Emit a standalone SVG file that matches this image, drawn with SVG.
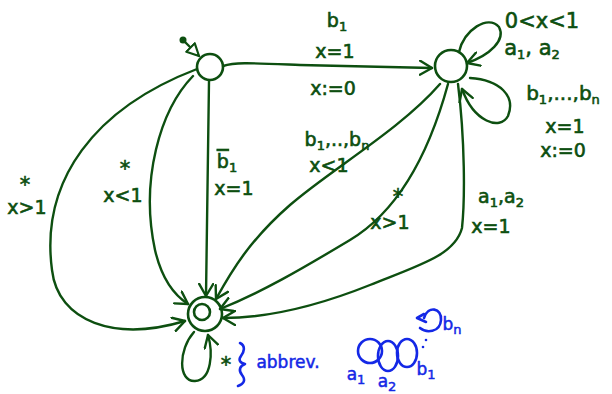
<svg xmlns="http://www.w3.org/2000/svg" width="612" height="394" viewBox="0 0 612 394">
<style>
.n{fill:none;stroke:#0d4f10;stroke-width:2.6;stroke-linecap:round;stroke-linejoin:round}
.e{fill:none;stroke:#0d4f10;stroke-width:2.4;stroke-linecap:round;stroke-linejoin:round}
.b{fill:none;stroke:#1428e6;stroke-width:2.6;stroke-linecap:round;stroke-linejoin:round}
.t{font-family:"DejaVu Sans",sans-serif;font-size:19px;fill:#0d4f10;stroke:#0d4f10;stroke-width:0.6;text-anchor:middle}
.tb{font-family:"DejaVu Sans",sans-serif;font-size:17px;fill:#1428e6;stroke:#1428e6;stroke-width:0.5;text-anchor:middle}
.s{font-size:13px}
.st{font-size:21px}
</style>
<defs>
<marker id="ah" markerUnits="userSpaceOnUse" markerWidth="16" markerHeight="16" refX="13" refY="8" orient="auto" viewBox="0 0 16 16">
<path d="M1,1 L13,8 L1,15" fill="none" stroke="#0d4f10" stroke-width="2.4" stroke-linecap="round" stroke-linejoin="round"/>
</marker>
<marker id="tri" markerUnits="userSpaceOnUse" markerWidth="16" markerHeight="16" refX="13" refY="8" orient="auto" viewBox="0 0 16 16">
<path d="M1,2 L13,8 L1,14 Z" fill="#fff" stroke="#0d4f10" stroke-width="2.2" stroke-linejoin="round"/>
</marker>
</defs>

<g id="node-q0">
<circle class="n" cx="210" cy="67" r="13"/>
</g>
<g id="node-q1">
<circle class="n" cx="451" cy="66" r="16"/>
</g>
<g id="node-q2">
<circle class="n" cx="205" cy="314" r="17"/>
<circle class="n" cx="202" cy="312" r="8"/>
</g>

<g id="connectors">
<circle cx="183" cy="40" r="3.5" fill="#0d4f10"/>
<path class="e" d="M183,40 L199,56" marker-end="url(#tri)"/>
<path class="e" d="M223,66 C235,62 250,63 300,65 L432,68" marker-end="url(#ah)"/>
<path class="e" d="M459,52 C464,30 488,14 499,27 C506,40 490,55 467,63" marker-end="url(#ah)"/>
<path class="e" d="M470,78 C500,80 516,96 508,116 C500,131 474,122 462,89" marker-end="url(#ah)"/>
<path class="e" d="M197,69 C95,108 40,180 52,270 C58,322 115,342 185,321" marker-end="url(#ah)"/>
<path class="e" d="M193,76 C160,110 140,180 155,250 C162,280 174,295 188,304" marker-end="url(#ah)"/>
<path class="e" d="M209,81 L206,296" marker-end="url(#ah)"/>
<path class="e" d="M440,84 C400,130 330,170 290,205 C250,240 232,270 216,299" marker-end="url(#ah)"/>
<path class="e" d="M448,84 C430,150 400,210 350,240 C300,270 262,292 220,309" marker-end="url(#ah)"/>
<path class="e" d="M458,84 C465,140 465,200 462,228 C455,255 420,265 370,285 C320,305 270,318 223,318" marker-end="url(#ah)"/>
<path class="e" d="M194,332 C178,350 178,382 195,381 C212,380 213,352 208,335" marker-end="url(#ah)"/>
</g>

<g id="labels">
<text class="t" x="337" y="27">b<tspan class="s" dy="4">1</tspan></text>
<text class="t" x="335" y="58">x=1</text>
<text class="t" x="333" y="95">x:=0</text>
<text class="t" x="542" y="28" style="font-size:21px">0&lt;x&lt;1</text>
<text class="t" x="532" y="55" style="font-size:21px">a<tspan class="s" dy="4">1</tspan><tspan dy="-4">, a</tspan><tspan class="s" dy="4">2</tspan></text>
<text class="t" x="563" y="100" style="font-size:20px">b<tspan class="s" dy="4">1</tspan><tspan dy="-4">,...,b</tspan><tspan class="s" dy="4">n</tspan></text>
<text class="t" x="565" y="133">x=1</text>
<text class="t" x="563" y="157">x:=0</text>
<text class="t st" x="25" y="192">*</text>
<text class="t" x="27" y="214">x&gt;1</text>
<text class="t st" x="125" y="176">*</text>
<text class="t" x="123" y="202">x&lt;1</text>
<text class="t" x="227" y="168"><tspan text-decoration="overline">b</tspan><tspan class="s" dy="4">1</tspan></text>
<text class="t" x="234" y="195">x=1</text>
<text class="t" x="337" y="146">b<tspan class="s" dy="4">1</tspan><tspan dy="-4">,..,b</tspan><tspan class="s" dy="4">n</tspan></text>
<text class="t" x="329" y="172">x&lt;1</text>
<text class="t st" x="398" y="204">*</text>
<text class="t" x="390" y="229">x&gt;1</text>
<text class="t" x="501" y="203">a<tspan class="s" dy="4">1</tspan><tspan dy="-4">,a</tspan><tspan class="s" dy="4">2</tspan></text>
<text class="t" x="491" y="233">x=1</text>
<text class="t st" x="226" y="372">*</text>
</g>

<g id="annotation">
<path class="b" d="M240,343 C246,346 244,352 241,356 C238,360 240,363 245,364 C240,366 238,370 242,375 C246,380 244,384 238,386"/>
<text class="tb" x="288" y="368">abbrev.</text>
<ellipse class="b" cx="370" cy="351" rx="12" ry="12"/>
<ellipse class="b" cx="388" cy="356" rx="10" ry="15"/>
<ellipse class="b" cx="407" cy="353" rx="10" ry="14"/>
<path class="b" d="M424,318 C428,305 442,308 441,320 C440,333 426,333 420,328"/>
<path class="b" d="M424,314 L417,318 L426,322"/>
<circle cx="426" cy="340" r="1.3" fill="#1428e6"/>
<circle cx="423" cy="347" r="1.3" fill="#1428e6"/>
<text class="tb" x="452" y="330">b<tspan class="s" dy="4">n</tspan></text>
<text class="tb" x="356" y="380">a<tspan class="s" dy="4">1</tspan></text>
<text class="tb" x="387" y="387">a<tspan class="s" dy="4">2</tspan></text>
<text class="tb" x="426" y="375">b<tspan class="s" dy="4">1</tspan></text>
</g>
</svg>
